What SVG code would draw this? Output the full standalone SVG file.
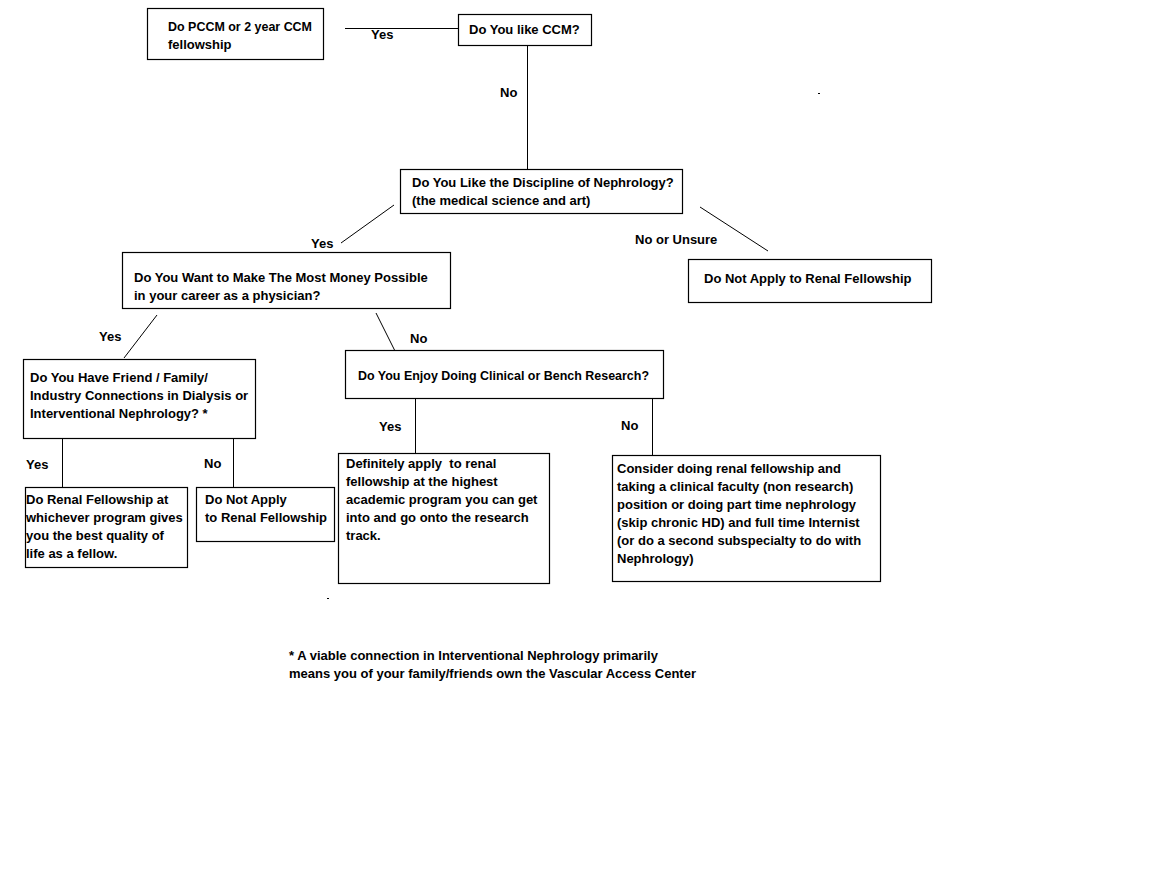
<svg xmlns="http://www.w3.org/2000/svg" width="1164" height="889" viewBox="0 0 1164 889">
<style>
text{font-family:"Liberation Sans",Arial,sans-serif;font-weight:bold;font-size:13px;fill:#000}
.box{fill:#fff;stroke:#000;stroke-width:1.2}
.conn line{stroke:#000;stroke-width:1}
</style>
<rect width="1164" height="889" fill="#fff"/>
<g class="conn" id="connectors">
<line x1="345" y1="28.5" x2="458" y2="28.5"/>
<line x1="527.5" y1="45" x2="527.5" y2="169"/>
<line x1="394" y1="205" x2="341" y2="243"/>
<line x1="700" y1="207" x2="768" y2="251"/>
<line x1="157" y1="315" x2="124" y2="358"/>
<line x1="376" y1="313" x2="395" y2="351"/>
<line x1="62.5" y1="438" x2="62.5" y2="487"/>
<line x1="233.5" y1="438" x2="233.5" y2="487"/>
<line x1="415.5" y1="398" x2="415.5" y2="453"/>
<line x1="652.5" y1="398" x2="652.5" y2="455"/>
</g>
<g id="labels">
<text x="371" y="39">Yes</text>
<text x="500" y="97">No</text>
<text x="311" y="248">Yes</text>
<text x="635" y="244">No or Unsure</text>
<text x="99" y="341">Yes</text>
<text x="410" y="343">No</text>
<text x="26" y="469">Yes</text>
<text x="204" y="468">No</text>
<text x="379" y="431">Yes</text>
<text x="621" y="430">No</text>
</g>
<g id="n1"><rect class="box" x="147.5" y="8.5" width="176" height="51"/>
<text x="168" y="31" textLength="144" lengthAdjust="spacingAndGlyphs">Do PCCM or 2 year CCM</text><text x="168" y="49">fellowship</text></g>
<g id="n2"><rect class="box" x="458.5" y="14.5" width="133" height="31"/>
<text x="469" y="34">Do You like CCM?</text></g>
<g id="n3"><rect class="box" x="400.5" y="169.5" width="282" height="44"/>
<text x="412" y="187">Do You Like the Discipline of Nephrology?</text><text x="412" y="205">(the medical science and art)</text></g>
<g id="n4"><rect class="box" x="688.5" y="259.5" width="243" height="43"/>
<text x="704" y="283">Do Not Apply to Renal Fellowship</text></g>
<g id="n5"><rect class="box" x="122.5" y="252.5" width="328" height="56"/>
<text x="134" y="282">Do You Want to Make The Most Money Possible</text><text x="134" y="300">in your career as a physician?</text></g>
<g id="n6"><rect class="box" x="23.5" y="359.5" width="232" height="79"/>
<text x="30" y="382">Do You Have Friend / Family/</text><text x="30" y="400">Industry Connections in Dialysis or</text><text x="30" y="418">Interventional Nephrology? *</text></g>
<g id="n7"><rect class="box" x="345.5" y="350.5" width="318" height="48"/>
<text x="358" y="380" textLength="291" lengthAdjust="spacingAndGlyphs">Do You Enjoy Doing Clinical or Bench Research?</text></g>
<g id="n8"><rect class="box" x="25.5" y="487.5" width="162" height="80"/>
<text x="26" y="504">Do Renal Fellowship at</text><text x="26" y="522">whichever program gives</text><text x="26" y="540">you the best quality of</text><text x="26" y="558">life as a fellow.</text></g>
<g id="n9"><rect class="box" x="196.5" y="487.5" width="138" height="54"/>
<text x="205" y="504">Do Not Apply</text><text x="205" y="522">to Renal Fellowship</text></g>
<g id="n10"><rect class="box" x="338.5" y="453.5" width="211" height="130"/>
<text x="346" y="468" xml:space="preserve">Definitely apply  to renal</text><text x="346" y="486">fellowship at the highest</text><text x="346" y="504">academic program you can get</text><text x="346" y="522">into and go onto the research</text><text x="346" y="540">track.</text></g>
<g id="n11"><rect class="box" x="612.5" y="455.5" width="268" height="126"/>
<text x="617" y="473">Consider doing renal fellowship and</text><text x="617" y="491">taking a clinical faculty (non research)</text><text x="617" y="509">position or doing part time nephrology</text><text x="617" y="527">(skip chronic HD) and full time Internist</text><text x="617" y="545">(or do a second subspecialty to do with</text><text x="617" y="563">Nephrology)</text></g>
<g id="footnote">
<text x="289" y="660">* A viable connection in Interventional Nephrology primarily</text>
<text x="289" y="678">means you of your family/friends own the Vascular Access Center</text>
</g>
<rect x="327" y="598" width="2" height="1" fill="#000"/>
<rect x="818" y="93" width="2" height="1" fill="#000"/>
</svg>
